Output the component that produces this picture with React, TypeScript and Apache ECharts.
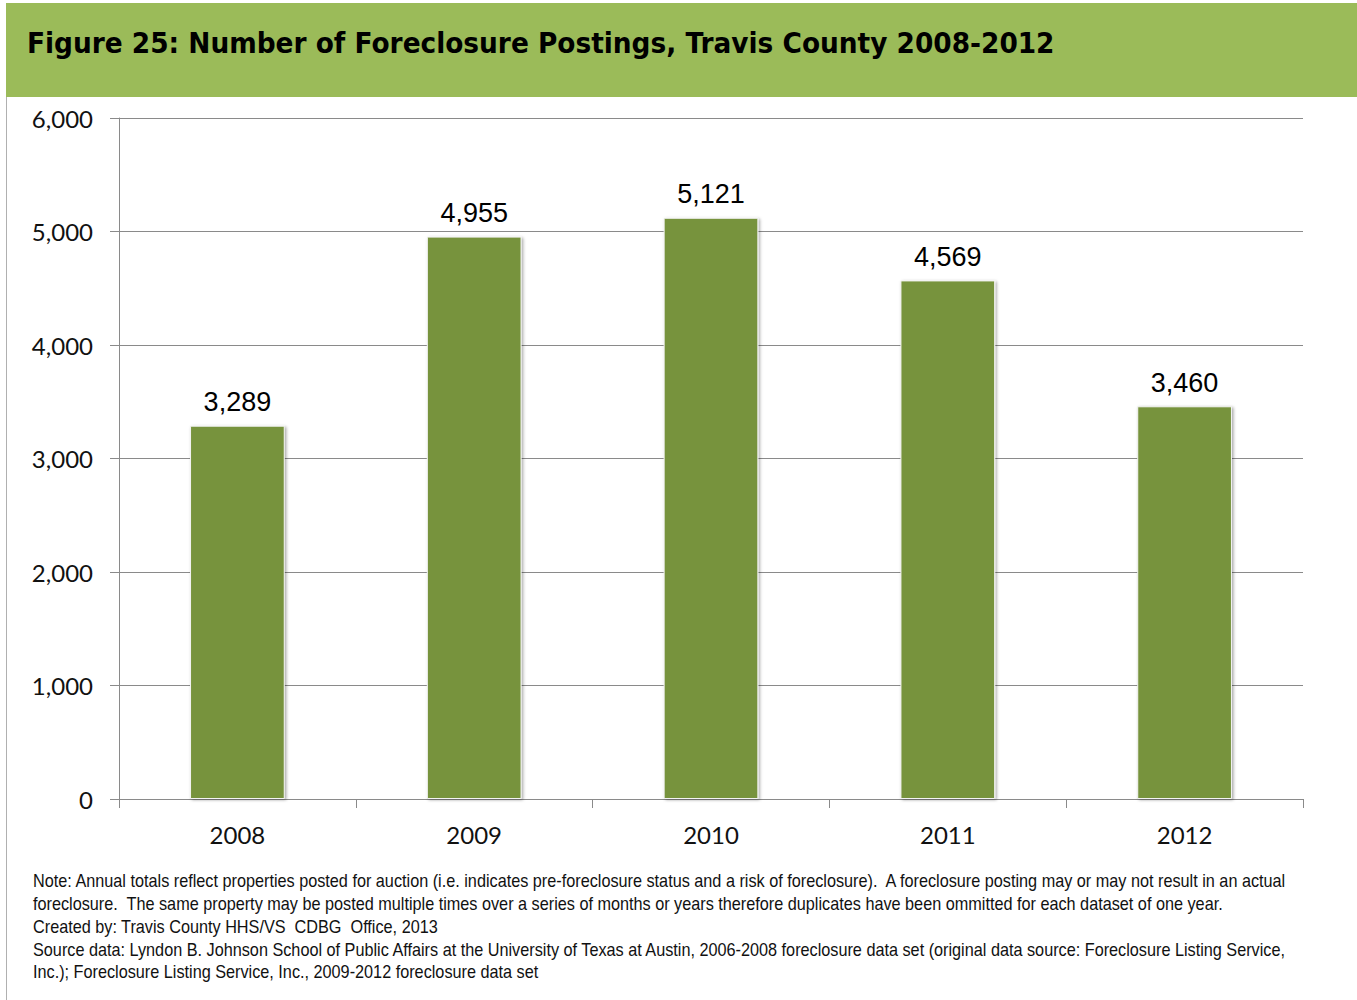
import React, { useEffect, useRef } from "react";
import * as echarts from "echarts";

const TITLE = "Figure 25: Number of Foreclosure Postings, Travis County 2008-2012";
const YEARS = ["2008", "2009", "2010", "2011", "2012"];
const POSTINGS = [3289, 4955, 5121, 4569, 3460];
const Y_MIN = 0;
const Y_MAX = 6000;
const Y_STEP = 1000;
const NOTE_LINES = [
  "Note: Annual totals reflect properties posted for auction (i.e. indicates pre-foreclosure status and a risk of foreclosure).  A foreclosure posting may or may not result in an actual",
  "foreclosure.  The same property may be posted multiple times over a series of months or years therefore duplicates have been ommitted for each dataset of one year.",
  "Created by: Travis County HHS/VS  CDBG  Office, 2013",
  "Source data: Lyndon B. Johnson School of Public Affairs at the University of Texas at Austin, 2006-2008 foreclosure data set (original data source: Foreclosure Listing Service,",
  "Inc.); Foreclosure Listing Service, Inc., 2009-2012 foreclosure data set",
];

const fmt = (v: number) => Number(v).toLocaleString("en-US");

function measure(text: string, font: string): number {
  const c = document.createElement("canvas");
  const ctx = c.getContext("2d");
  if (!ctx) return 0;
  ctx.font = font;
  return ctx.measureText(text).width;
}

export default function App() {
  const ref = useRef<HTMLDivElement>(null);
  useEffect(() => {
    if (!ref.current) return;
    const chart = echarts.init(ref.current, null, { renderer: "svg" });

    const titleFont = "bold 28px 'DejaVu Sans'";
    const titleW = measure(TITLE, titleFont) || 1028;
    const titleScale = 1028 / titleW;

    const noteFont = "18px 'Liberation Sans'";
    const noteW = measure(NOTE_LINES[0], noteFont) || 1257;
    const noteScale = 1257 / noteW;

    const noteY0 = 881;
    const noteStep = 22.8;
    chart.setOption({
      animation: false,
      backgroundColor: "#ffffff",
      grid: { left: 119, right: 54, top: 118, bottom: 201, containLabel: false },
      xAxis: {
        type: "category",
        data: YEARS,
        boundaryGap: true,
        axisLine: { show: true, lineStyle: { color: "#8a8a8a", width: 1 } },
        axisTick: { show: true, length: 9, interval: 0, lineStyle: { color: "#8a8a8a" } },
        axisLabel: {
          margin: 23,
          fontFamily: "Lato",
          fontSize: 24,
          color: "#111",
        },
      },
      yAxis: {
        type: "value",
        min: Y_MIN,
        max: Y_MAX,
        interval: Y_STEP,
        axisLine: { show: true, lineStyle: { color: "#8a8a8a", width: 1 } },
        axisTick: { show: true, length: 9, lineStyle: { color: "#8a8a8a" } },
        splitLine: { show: true, lineStyle: { color: "#8a8a8a", width: 1 } },
        axisLabel: {
          margin: 26,
          fontFamily: "Lato",
          fontSize: 24,
          color: "#111",
          padding: [0, 0, 3, 0],
          formatter: (v: number) => fmt(v),
        },
      },
      series: [
        {
          type: "bar",
          data: POSTINGS,
          barWidth: "40%",
          itemStyle: {
            color: "#77933C",
            borderColor: "#f4f4f4",
            borderWidth: 1,
            shadowColor: "rgba(0,0,0,0.35)",
            shadowBlur: 3,
            shadowOffsetX: 1.5,
            shadowOffsetY: 1,
          },
          label: {
            show: true,
            position: "top",
            distance: 10,
            fontFamily: "Liberation Sans",
            fontSize: 27,
            color: "#000",
            formatter: (p: any) => fmt(p.value),
          },
        },
      ],
      graphic: [
        {
          type: "rect",
          shape: { x: 6, y: 3, width: 1351, height: 94 },
          style: { fill: "#9BBB59" },
          silent: true,
        },
        {
          type: "line",
          shape: { x1: 6.5, y1: 97, x2: 6.5, y2: 1000 },
          style: { stroke: "#b0b0b0", lineWidth: 1 },
          silent: true,
        },
        {
          type: "text",
          x: 27,
          y: 43,
          scaleX: titleScale,
          style: {
            text: TITLE,
            fontFamily: "DejaVu Sans",
            fontWeight: "bold",
            fontSize: 28,
            fill: "#000",
            textVerticalAlign: "middle",
          },
          silent: true,
        },
        ...NOTE_LINES.map((t, i) => ({
          type: "text",
          x: 33,
          y: noteY0 + i * noteStep,
          scaleX: noteScale,
          style: {
            text: t,
            fontFamily: "Liberation Sans",
            fontSize: 18,
            fill: "#111",
            textVerticalAlign: "middle",
          },
          silent: true,
        })),
      ],
    });
    return () => chart.dispose();
  }, []);
  return (
    <div
      ref={ref}
      style={{ position: "fixed", left: 0, top: 0, width: 1357, height: 1000 }}
    />
  );
}
